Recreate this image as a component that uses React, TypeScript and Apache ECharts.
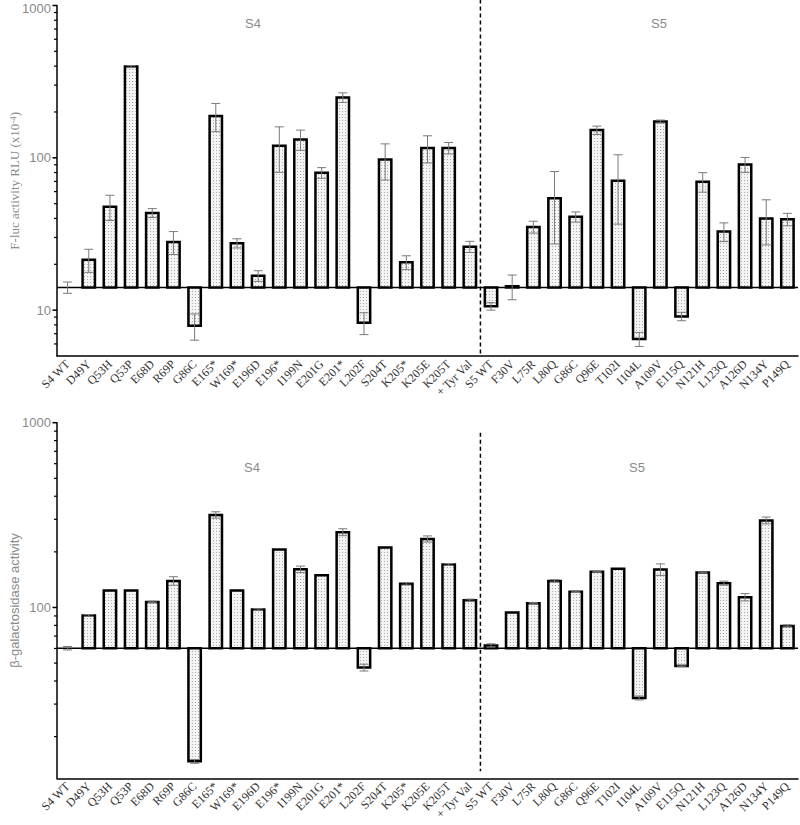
import React, { useEffect, useRef } from "react";
import * as echarts from "echarts";

const categories = [
  "S4 WT", "D49Y", "Q53H", "Q53P", "E68D", "R69P", "G86C", "E165*", "W169*", "E196D",
  "E196*", "I199N", "E201G", "E201*", "L202F", "S204T", "K205*", "K205E", "K205T", "+ Tyr Val",
  "S5 WT", "F30V", "L75R", "L80Q", "G86C", "Q96E", "T102I", "I104L", "A109V", "E115Q",
  "N121H", "L123Q", "A126D", "N134Y", "P149Q",
];

// F-luc activity RLU (x10^-4)
const lucValues = [
  14.1, 21.4, 47.8, 397, 43.5, 28.0, 7.9, 188, 27.5, 16.8,
  120, 132, 79.8, 249, 8.26, 97.5, 20.6, 116, 116, 26.1,
  10.6, 14.35, 35.2, 54.2, 41.0, 152, 70.7, 6.46, 173, 9.1,
  69.7, 32.8, 90.4, 39.9, 39.5,
];
const lucErrors = [
  1.2, 3.7, 9.0, 6, 2.9, 4.8, 1.55, 39.5, 1.9, 1.35,
  39.7, 20, 6.4, 18, 1.35, 26, 2.15, 23.5, 10, 2.2,
  0.6, 2.65, 3.15, 27, 3.15, 9.5, 34, 0.68, 4, 0.58,
  10.2, 4.6, 10.2, 13.1, 3.7,
];
const lucBaseline = 14.1;

// beta-galactosidase activity
const galValues = [
  60.2, 90.5, 123.6, 123.6, 107.2, 139.3, 14.7, 317, 123.6, 97.5,
  206, 161, 149.6, 255.7, 47.3, 211, 134.2, 235, 171, 109.5,
  62.3, 93.9, 105.5, 139.3, 121.5, 156, 161.8, 32.4, 160.6, 48.3,
  154.6, 135.4, 113.7, 296, 79.5,
];
const galErrors = [
  1.3, 1, 0, 0, 1, 7.4, 0.35, 12.5, 0, 1,
  0, 6.5, 0, 11, 2, 0, 2, 9, 2, 1.5,
  1.3, 0, 1, 2, 1, 1, 0, 0.8, 11.5, 0.5,
  1, 3.4, 5.2, 12.5, 1,
];
const galBaseline = 60.2;

const lucMajorTicks = [10, 100, 1000];
const lucMinorTicks = [6, 7, 8, 9, 20, 30, 40, 50, 60, 70, 80, 90, 200, 300, 400, 500, 600, 700, 800, 900];
const galMajorTicks = [100, 1000];
const galMinorTicks = [20, 30, 40, 50, 60, 70, 80, 90, 200, 300, 400, 500, 600, 700, 800, 900];

const groupLabels = ["S4", "S5"];
const dividerIndex = categories.indexOf("S5 WT");

function makePattern(): HTMLCanvasElement {
  const c = document.createElement("canvas");
  c.width = 3;
  c.height = 3;
  const ctx = c.getContext("2d")!;
  ctx.fillStyle = "#f4f4f4";
  ctx.fillRect(0, 0, 3, 3);
  ctx.fillStyle = "#ababab";
  ctx.fillRect(0, 0, 1, 1);
  return c;
}

export default function App() {
  const ref = useRef<HTMLDivElement>(null);

  useEffect(() => {
    if (!ref.current) return;
    const chart = echarts.init(ref.current, null, { renderer: "svg" });
    const pattern = { image: makePattern(), repeat: "repeat", imageWidth: 3, imageHeight: 3 };

    const barRender = (base: number) => (params: any, api: any) => {
      const i = api.value(0);
      const v = api.value(1);
      const e = api.value(2);
      const [x, yv] = api.coord([i, v]);
      const yb = api.coord([i, base])[1];
      const bw = api.size([1, 0])[0] * 0.585;
      const children: any[] = [];
      const top = Math.min(yv, yb);
      const h = Math.abs(yb - yv);
      if (h > 0.5) {
        children.push({
          type: "rect",
          shape: { x: x - bw / 2, y: top, width: bw, height: h },
          style: { fill: pattern, stroke: "#000", lineWidth: 2.5 },
        });
      }
      if (e > 0) {
        const y1 = api.coord([i, v + e])[1];
        const y2 = api.coord([i, Math.max(v - e, 0.001)])[1];
        const cap = 4.5;
        const st = { stroke: "#7a7a7a", lineWidth: 1 };
        children.push({ type: "line", shape: { x1: x, y1, x2: x, y2 }, style: st });
        children.push({ type: "line", shape: { x1: x - cap, y1, x2: x + cap, y2: y1 }, style: st });
        children.push({ type: "line", shape: { x1: x - cap, y1: y2, x2: x + cap, y2 }, style: st });
      }
      return { type: "group", children };
    };

    const decorRender = (base: number, major: number[], minor: number[], dashTop: number, dashBottom: number) =>
      (params: any, api: any) => {
        const cs = params.coordSys;
        const children: any[] = [];
        const yb = api.coord([0, base])[1];
        children.push({
          type: "line",
          shape: { x1: cs.x, y1: yb, x2: cs.x + cs.width, y2: yb },
          style: { stroke: "#000", lineWidth: 1.5 },
        });
        const xm = (api.coord([dividerIndex - 1, base])[0] + api.coord([dividerIndex, base])[0]) / 2;
        children.push({
          type: "line",
          shape: { x1: xm, y1: cs.y + dashTop, x2: xm, y2: cs.y + cs.height + dashBottom },
          style: { stroke: "#000", lineWidth: 1.5, lineDash: [4, 3] },
        });
        major.forEach((t) => {
          const y = api.coord([0, t])[1];
          children.push({
            type: "line",
            shape: { x1: cs.x - 4.5, y1: y, x2: cs.x, y2: y },
            style: { stroke: "#000", lineWidth: 1.5 },
          });
          children.push({
            type: "text",
            style: {
              text: String(t),
              x: cs.x - 6,
              y: Math.max(y, 8),
              align: "right",
              verticalAlign: "middle",
              fill: "#8a8a8a",
              fontSize: 13,
              fontFamily: "Liberation Sans",
            },
          });
        });
        minor.forEach((t) => {
          const y = api.coord([0, t])[1];
          children.push({
            type: "line",
            shape: { x1: cs.x - 3, y1: y, x2: cs.x, y2: y },
            style: { stroke: "#000", lineWidth: 1.2 },
          });
        });
        return { type: "group", children };
      };

    const xAxisCommon = {
      type: "category",
      data: categories,
      boundaryGap: true,
      axisLine: { onZero: false, lineStyle: { color: "#000", width: 1.5 } },
      axisTick: { alignWithLabel: true, length: 5, lineStyle: { color: "#000", width: 1.5 } },
      axisLabel: {
        interval: 0,
        rotate: 45,
        margin: 6,
        color: "#333",
        fontSize: 12,
        fontFamily: "Liberation Serif",
      },
      splitLine: { show: false },
    };

    const yAxisCommon = {
      type: "log",
      logBase: 10,
      max: 1000,
      axisLine: { show: true, lineStyle: { color: "#000", width: 1.5 } },
      axisTick: { show: false },
      axisLabel: { show: false },
      splitLine: { show: false },
      nameLocation: "middle",
      nameRotate: 90,
    };

    const lucData = categories.map((_, i) => [i, lucValues[i], lucErrors[i]]);
    const galData = categories.map((_, i) => [i, galValues[i], galErrors[i]]);

    chart.setOption({
      animation: false,
      grid: [
        { left: 52, width: 746, top: 5.5, height: 350.5 },
        { left: 52, width: 746, top: 422.7, height: 355.6 },
      ],
      xAxis: [
        { ...xAxisCommon, gridIndex: 0 },
        { ...xAxisCommon, gridIndex: 1 },
      ],
      yAxis: [
        {
          ...yAxisCommon,
          gridIndex: 0,
          min: 5,
          name: "F-luc activity RLU (x10{sup|-4})",
          nameGap: 36,
          nameTextStyle: {
            fontFamily: "Liberation Serif",
            fontSize: 13,
            color: "#8a8a8a",
            rich: {
              sup: { fontFamily: "Liberation Serif", fontSize: 9, color: "#8a8a8a", verticalAlign: "top" },
            },
          },
        },
        {
          ...yAxisCommon,
          gridIndex: 1,
          min: 11.9,
          name: "β-galactosidase activity",
          nameGap: 36,
          nameTextStyle: { fontFamily: "Liberation Sans", fontSize: 13, color: "#8a8a8a" },
        },
      ],
      graphic: [
        { type: "text", x: 253, y: 23, style: { text: groupLabels[0], align: "center", verticalAlign: "middle", fill: "#8a8a8a", fontSize: 13, fontFamily: "Liberation Sans" } },
        { type: "text", x: 659, y: 23, style: { text: groupLabels[1], align: "center", verticalAlign: "middle", fill: "#8a8a8a", fontSize: 13, fontFamily: "Liberation Sans" } },
        { type: "text", x: 252, y: 467, style: { text: groupLabels[0], align: "center", verticalAlign: "middle", fill: "#8a8a8a", fontSize: 13, fontFamily: "Liberation Sans" } },
        { type: "text", x: 637, y: 467, style: { text: groupLabels[1], align: "center", verticalAlign: "middle", fill: "#8a8a8a", fontSize: 13, fontFamily: "Liberation Sans" } },
      ],
      series: [
        {
          type: "custom",
          name: "luc-decor",
          xAxisIndex: 0,
          yAxisIndex: 0,
          data: [[0, lucBaseline]],
          encode: { x: 0, y: 1 },
          renderItem: decorRender(lucBaseline, lucMajorTicks, lucMinorTicks, -6, 0),
          silent: true,
          z: 1,
        },
        {
          type: "custom",
          name: "F-luc",
          xAxisIndex: 0,
          yAxisIndex: 0,
          data: lucData,
          encode: { x: 0, y: 1 },
          renderItem: barRender(lucBaseline),
          z: 2,
        },
        {
          type: "custom",
          name: "gal-decor",
          xAxisIndex: 1,
          yAxisIndex: 1,
          data: [[0, galBaseline]],
          encode: { x: 0, y: 1 },
          renderItem: decorRender(galBaseline, galMajorTicks, galMinorTicks, 10, -7),
          silent: true,
          z: 1,
        },
        {
          type: "custom",
          name: "beta-gal",
          xAxisIndex: 1,
          yAxisIndex: 1,
          data: galData,
          encode: { x: 0, y: 1 },
          renderItem: barRender(galBaseline),
          z: 2,
        },
      ],
    });

    return () => chart.dispose();
  }, []);

  return (
    <div
      ref={ref}
      style={{ position: "fixed", left: 0, top: 0, width: 800, height: 825, background: "#fff" }}
    />
  );
}
